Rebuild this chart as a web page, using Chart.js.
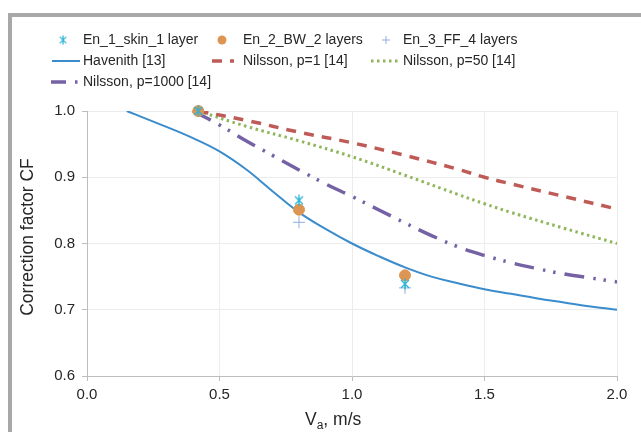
<!DOCTYPE html>
<html>
<head>
<meta charset="utf-8">
<script src="https://cdn.jsdelivr.net/npm/chart.js@4/dist/chart.umd.min.js"></script>
<style>
  html, body { margin: 0; padding: 0; background: #fff; }
  #wrap { position: relative; width: 641px; height: 432px; overflow: hidden; }
  #frame { position: absolute; left: 8px; top: 13px; width: 700px; height: 500px;
           border-top: 4px solid #a8a8a8; border-left: 4px solid #a8a8a8; }
  #chart { position: absolute; left: 0; top: 0; }
</style>
</head>
<body>
<div id="wrap">
  <div id="frame"></div>
  <canvas id="chart" width="641" height="432"></canvas>
</div>
<script>
// measured points
const measX = [0.42, 0.8, 1.2];
const en1Y = [1.0, 0.865, 0.739];
const en2Y = [1.0, 0.851, 0.752];
const en3Y = [1.0, 0.832, 0.733];

// model curves
const havenithX = [0.15, 0.3, 0.4, 0.5, 0.6, 0.7, 0.8, 0.9, 1.0, 1.1, 1.2, 1.3, 1.4, 1.5, 1.6, 1.7, 1.8, 1.9, 2.0];
const havenithY = [1.0, 0.976, 0.959, 0.939, 0.912, 0.879, 0.847, 0.822, 0.80, 0.781, 0.764, 0.75, 0.74, 0.731, 0.724, 0.717, 0.711, 0.705, 0.70];

const p1X = [0.42, 0.6, 0.8, 1.0, 1.2, 1.4, 1.5, 1.6, 1.8, 2.0];
const p1Y = [1.0, 0.986, 0.968, 0.952, 0.933, 0.912, 0.90, 0.89, 0.871, 0.852];

const p50X = [0.42, 0.6, 0.8, 1.0, 1.2, 1.4, 1.5, 1.6, 1.8, 2.0];
const p50Y = [1.0, 0.977, 0.955, 0.931, 0.903, 0.874, 0.86, 0.847, 0.823, 0.80];

const p1000X = [0.4, 0.5, 0.6, 0.7, 0.8, 0.9, 1.0, 1.1, 1.2, 1.3, 1.4, 1.5, 1.6, 1.7, 1.8, 1.9, 2.0];
const p1000Y = [1.0, 0.979, 0.955, 0.933, 0.911, 0.89, 0.871, 0.851, 0.831, 0.812, 0.795, 0.782, 0.771, 0.762, 0.754, 0.748, 0.742];

const xTicks = [0, 0.5, 1.0, 1.5, 2.0];
const yTicks = [0.6, 0.7, 0.8, 0.9, 1.0];

const FONT = '"Liberation Sans", Arial, sans-serif';
const TEXT = '#262626';

function pts(xs, ys) {
  return xs.map((x, i) => ({ x: x, y: ys[i] }));
}

// excel-like asterisk marker: x plus vertical stroke
function asterisk(color) {
  const c = document.createElement('canvas');
  c.width = 12; c.height = 12;
  const g = c.getContext('2d');
  g.strokeStyle = color;
  g.lineWidth = 1.4;
  g.beginPath();
  g.moveTo(2, 2); g.lineTo(10, 10);
  g.moveTo(10, 2); g.lineTo(2, 10);
  g.moveTo(6, 0.5); g.lineTo(6, 11.5);
  g.stroke();
  return c;
}

const cyan = '#2eb4d6';
const starImg = asterisk(cyan);

const lineCommon = { showLine: true, pointRadius: 0, fill: false, tension: 0.4 };

const datasets = [
  { label: 'En_1_skin_1 layer', data: pts(measX, en1Y), pointStyle: starImg, pointRadius: 6,
    borderColor: cyan, backgroundColor: cyan, showLine: false, clip: false, kind: 'star' },
  { label: 'En_2_BW_2 layers', data: pts(measX, en2Y), pointStyle: 'circle', pointRadius: 5.5,
    borderColor: '#dc9553', backgroundColor: '#dc9553', showLine: false, clip: false, kind: 'circle' },
  { label: 'En_3_FF_4 layers', data: pts(measX, en3Y), pointStyle: 'cross', pointRadius: 6, pointBorderWidth: 1,
    borderColor: '#8fb0dc', backgroundColor: '#8fb0dc', showLine: false, clip: false, kind: 'plus' },
  Object.assign({ label: 'Havenith [13]', data: pts(havenithX, havenithY),
    borderColor: '#3a8ccc', borderWidth: 2, kind: 'line' }, lineCommon),
  Object.assign({ label: 'Nilsson, p=1 [14]', data: pts(p1X, p1Y),
    borderColor: '#bf5b57', borderWidth: 3.5, borderDash: [10, 8], kind: 'line' }, lineCommon),
  Object.assign({ label: 'Nilsson, p=50 [14]', data: pts(p50X, p50Y),
    borderColor: '#8fb65a', borderWidth: 3, borderDash: [2.5, 3.5], kind: 'line' }, lineCommon),
  Object.assign({ label: 'Nilsson, p=1000 [14]', data: pts(p1000X, p1000Y),
    borderColor: '#7562a4', borderWidth: 3.5, borderDash: [20, 9, 2.5, 8, 2.5, 9], kind: 'line' }, lineCommon)
];

// legend slots (marker/line position, text x, row y)
const legendSlots = [
  { mx: 63, tx: 83, y: 40 }, { mx: 222, tx: 243, y: 40 }, { mx: 386, tx: 403, y: 40 },
  { lx0: 52, lx1: 80, tx: 83, y: 61 }, { lx0: 212, lx1: 234, tx: 243, y: 61 }, { lx0: 371, lx1: 401, tx: 403, y: 61 },
  { lx0: 51, lx1: 79, tx: 83, y: 82, dash: [15, 9, 2.5, 10] }
];

const decor = {
  id: 'decor',
  afterDraw(chart) {
    const ctx = chart.ctx;
    ctx.save();
    ctx.font = '14px ' + FONT;
    ctx.fillStyle = TEXT;
    ctx.textBaseline = 'middle';
    chart.data.datasets.forEach((ds, i) => {
      const s = legendSlots[i];
      if (ds.kind === 'line') {
        ctx.save();
        ctx.strokeStyle = ds.borderColor;
        ctx.lineWidth = ds.borderWidth;
        ctx.setLineDash(s.dash || ds.borderDash || []);
        ctx.beginPath();
        ctx.moveTo(s.lx0, s.y);
        ctx.lineTo(s.lx1, s.y);
        ctx.stroke();
        ctx.restore();
      } else if (ds.kind === 'star') {
        ctx.drawImage(starImg, s.mx - 5, s.y - 5, 10, 10);
      } else if (ds.kind === 'circle') {
        ctx.beginPath();
        ctx.fillStyle = ds.backgroundColor;
        ctx.arc(s.mx, s.y, 4.5, 0, Math.PI * 2);
        ctx.fill();
      } else if (ds.kind === 'plus') {
        ctx.save();
        ctx.strokeStyle = ds.borderColor;
        ctx.lineWidth = 1;
        ctx.beginPath();
        ctx.moveTo(s.mx - 4, s.y); ctx.lineTo(s.mx + 4, s.y);
        ctx.moveTo(s.mx, s.y - 4); ctx.lineTo(s.mx, s.y + 4);
        ctx.stroke();
        ctx.restore();
      }
      ctx.fillStyle = TEXT;
      ctx.textAlign = 'left';
      ctx.fillText(ds.label, s.tx, s.y);
    });

    // x axis title with subscript
    ctx.textBaseline = 'alphabetic';
    let x = 305, y = 425;
    ctx.font = '17.5px ' + FONT;
    ctx.fillText('V', x, y);
    x += ctx.measureText('V').width;
    ctx.font = '12px ' + FONT;
    ctx.fillText('a', x, y + 4);
    x += ctx.measureText('a').width;
    ctx.font = '17.5px ' + FONT;
    ctx.fillText(', m/s', x, y);

    // y axis title
    ctx.translate(28, 237);
    ctx.rotate(-Math.PI / 2);
    ctx.textAlign = 'center';
    ctx.textBaseline = 'middle';
    ctx.fillText('Correction factor CF', 0, 0);
    ctx.restore();
  }
};

new Chart(document.getElementById('chart').getContext('2d'), {
  type: 'scatter',
  data: { datasets: datasets },
  plugins: [decor],
  options: {
    responsive: false,
    animation: false,
    layout: { padding: { top: 111, right: 24, left: 0, bottom: 0 } },
    plugins: { legend: { display: false }, tooltip: { enabled: false } },
    scales: {
      x: {
        type: 'linear', min: 0, max: 2,
        afterBuildTicks: s => { s.ticks = xTicks.map(v => ({ value: v })); },
        afterFit: s => { s.height = 56; },
        ticks: { callback: v => v.toFixed(1), color: TEXT, font: { size: 15, family: FONT }, padding: 5, maxRotation: 0 },
        grid: { color: '#ececec', tickColor: '#bdbdbd', tickLength: 5 },
        border: { color: '#bdbdbd', width: 1 }
      },
      y: {
        min: 0.6, max: 1.0,
        afterBuildTicks: s => { s.ticks = yTicks.map(v => ({ value: v })); },
        afterFit: s => { s.width = 87; },
        ticks: { callback: v => v.toFixed(1), color: TEXT, font: { size: 15, family: FONT }, padding: 7 },
        grid: { color: '#ececec', tickColor: '#bdbdbd', tickLength: 5 },
        border: { color: '#bdbdbd', width: 1 }
      }
    }
  }
});
</script>
</body>
</html>
